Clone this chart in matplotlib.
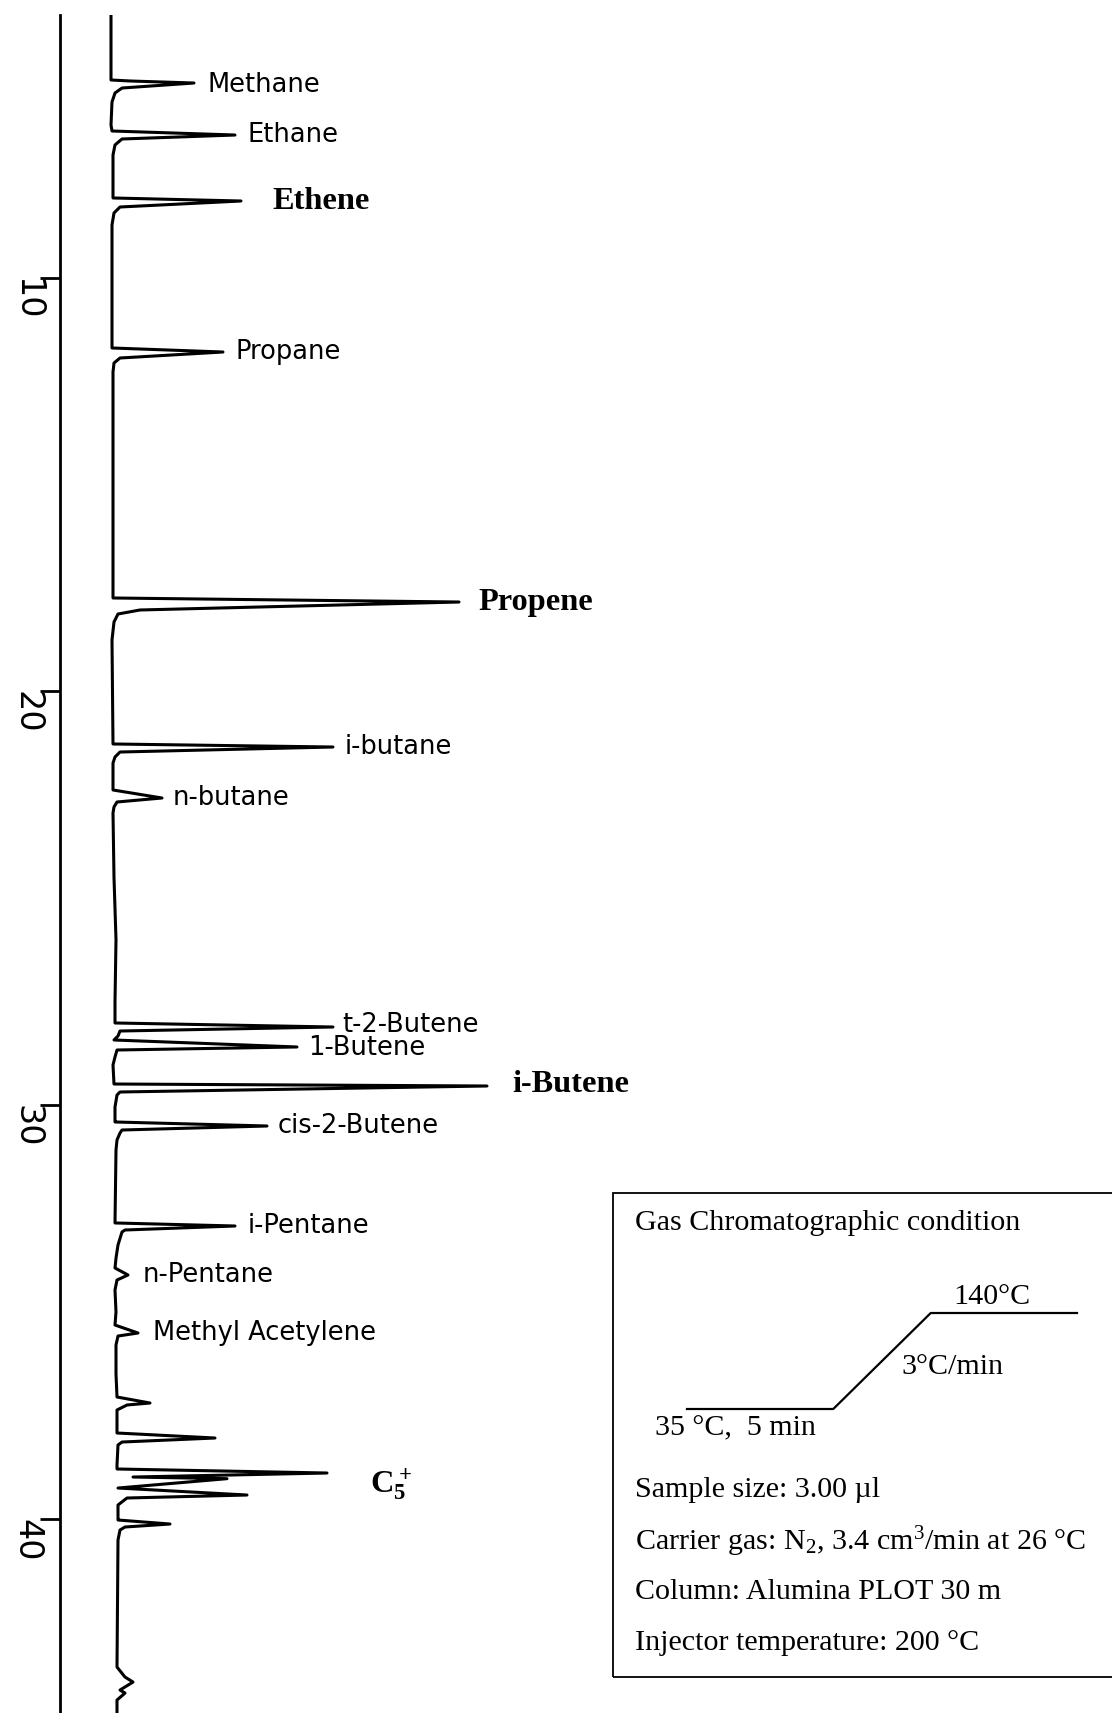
import matplotlib.pyplot as plt
from matplotlib.patches import Rectangle

plt.rcParams['mathtext.fontset'] = 'custom'
plt.rcParams['mathtext.rm'] = 'Liberation Serif'
plt.rcParams['mathtext.bf'] = 'Liberation Serif:bold'
plt.rcParams['mathtext.default'] = 'regular'

# chromatogram trace: retention time (min) vs detector signal (a.u.)
trace_t = [3.650, 5.221, 5.245, 5.294, 5.415, 5.535, 5.753, 6.309,
           6.454, 6.551, 6.647, 6.792, 7.034,
           8.073, 8.146, 8.291, 8.436, 8.726,
           11.699, 11.796, 11.941, 12.062, 12.279,
           17.742, 17.839, 18.032, 18.129, 18.322, 18.757,
           21.271, 21.344, 21.465, 21.586, 21.731, 22.383,
           22.577, 22.673, 22.794, 22.939, 24.5, 26.0, 27.5,
           28.015, 28.112, 28.209, 28.330, 28.426,
           28.595, 28.668, 28.837, 29.031,
           29.490, 29.538, 29.683, 29.756, 30.046, 30.360,
           30.408, 30.505, 30.602, 30.674, 30.843, 31.085,
           32.849, 32.922, 33.019, 33.067, 33.381, 33.700,
           33.937, 34.107, 34.228, 34.470, 35.000,
           35.316, 35.509, 35.582, 35.799, 36.500,
           37.056, 37.201, 37.249, 37.370, 37.853,
           37.926, 38.047, 38.144, 38.216, 38.700,
           38.796, 38.893, 38.990, 39.030, 39.256,
           39.425, 39.497, 39.666, 39.981,
           40.029, 40.126, 40.198, 40.271, 40.513,
           43.583, 43.825, 43.946, 44.139, 44.212, 44.381, 44.694]
trace_s = [-0.2, -0.2, 1.7, 8.1, 0.9, 0.2, -0.1, -0.2,
           -0.1, 12.2, 0.9, 0.2, 0.0,
           0.0, 12.8, 0.7, 0.1, -0.1,
           -0.1, 11.0, 0.7, 0.1, 0.0,
           0.0, 34.6, 2.7, 0.5, 0.1, -0.1,
           0.0, 22.0, 0.7, 0.2, 0.0, 0.0,
           4.9, 0.4, 0.1, 0.0, 0.1, 0.3, 0.2,
           0.2, 22.0, 0.7, 0.5, 0.1,
           18.4, 0.4, 0.2, 0.0,
           0.1, 37.4, 0.7, 0.4, 0.2, 0.2,
           0.2, 15.4, 0.9, 0.7, 0.4, 0.3,
           0.2, 12.2, 1.2, 0.9, 0.5, 0.3,
           0.2, 1.5, 0.4, 0.2, 0.3,
           0.2, 2.5, 0.5, 0.3, 0.3,
           0.4, 3.7, 1.4, 0.4, 0.4,
           0.4, 10.2, 0.9, 0.5, 0.4,
           0.4, 21.4, 2.0, 11.4, 0.5,
           13.4, 1.4, 0.5, 0.5,
           0.5, 5.7, 1.2, 0.7, 0.5,
           0.4, 1.2, 2.0, 0.7, 1.2, 0.4, 0.4]

# identified peaks
peak_names = ["Methane", "Ethane", "Ethene", "Propane", "Propene", "i-butane", "n-butane",
              "t-2-Butene", "1-Butene", "i-Butene", "cis-2-Butene", "i-Pentane", "n-Pentane",
              "Methyl Acetylene", r"$\mathbf{C_5^+}$"]
peak_times = [5.294, 6.551, 8.146, 11.796, 17.839, 21.344, 22.577,
              28.112, 28.595, 29.538, 30.505, 32.922, 34.107, 35.509, 38.893]
peak_heights = [8.1, 12.2, 12.8, 11.0, 34.6, 22.0, 4.9,
                22.0, 18.4, 37.4, 15.4, 12.2, 1.5, 2.5, 21.4]
bold_names = ["Ethene", "Propene", "i-Butene", r"$\mathbf{C_5^+}$"]
# label offsets from the peak tip, pixels
label_dx = [13, 12, 31, 12, 19, 12, 11, 9, 11, 25, 11, 13, 15, 15, 43]
label_dy = [-2, 0, 0, 0, 0, 0, 0, 2, -1, 1, 0, 0, 0, 0, -12]

time_ticks = [10, 20, 30, 40]

# oven programme (schematic stages)
profile_x = [0, 1.5, 2.5, 4.0]
profile_temp = [35, 35, 140, 140]

fig = plt.figure(figsize=(11.12, 17.13), dpi=100)
ax = fig.add_axes([60 / 1112, 0, 1 - 60 / 1112, 1 - 15 / 1713])
ax.plot(trace_s, trace_t, color='k', lw=2.2)
ax.set_ylim(44.694, 3.650)
ax.set_xlim(-5.3, 99.9)

for name, t, h, dx, dy in zip(peak_names, peak_times, peak_heights, label_dx, label_dy):
    if name in bold_names:
        ax.annotate(name, xy=(h, t), xytext=(dx, dy), textcoords='offset pixels',
                    ha='left', va='center', fontsize=23.3, fontweight='bold',
                    family='Liberation Serif')
    else:
        ax.annotate(name, xy=(h, t), xytext=(dx, dy), textcoords='offset pixels',
                    ha='left', va='center', fontsize=18.5, family='DejaVu Sans')

for s in ['top', 'right', 'bottom']:
    ax.spines[s].set_visible(False)
ax.spines['left'].set_linewidth(2.0)
ax.set_xticks([])
ax.set_yticks(time_ticks)
ax.set_yticklabels([str(v) for v in time_ticks], rotation=-90, rotation_mode='anchor',
                   ha='left', va='top', fontsize=24, family='DejaVu Sans')
ax.tick_params(axis='y', direction='out', length=14.4, width=2.0, pad=-2.2)

# conditions box
fig.patches.append(Rectangle((613 / 1112, 1 - 1677 / 1713), 0.47, (1677 - 1193) / 1713,
                             transform=fig.transFigure, fill=False, lw=1.3, ec='k'))
box_font = dict(family='Liberation Serif', fontsize=21.6, va='center', ha='left')
fig.text(0.571, 1 - 1223 / 1713, "Gas Chromatographic condition", **box_font)
fig.text(0.857, 1 - 1297 / 1713, "140°C", **box_font)
fig.text(0.811, 1 - 1367 / 1713, "3°C/min", **box_font)
fig.text(0.589, 1 - 1428 / 1713, "35 °C,  5 min", **box_font)
fig.text(0.571, 1 - 1490 / 1713, "Sample size: 3.00 µl", **box_font)
fig.text(0.571, 1 - 1542 / 1713, r"Carrier gas: N$_2$, 3.4 cm$^3$/min at 26 °C", **box_font)
fig.text(0.571, 1 - 1592 / 1713, "Column: Alumina PLOT 30 m", **box_font)
fig.text(0.571, 1 - 1643 / 1713, "Injector temperature: 200 °C", **box_font)

pax = fig.add_axes([687 / 1112, 1 - 1409 / 1713, 390 / 1112, 96 / 1713])
pax.plot(profile_x, profile_temp, color='k', lw=1.6, clip_on=False)
pax.set_xlim(0, 4)
pax.set_ylim(35, 140)
pax.axis('off')

fig.savefig("out.png", dpi=100)
